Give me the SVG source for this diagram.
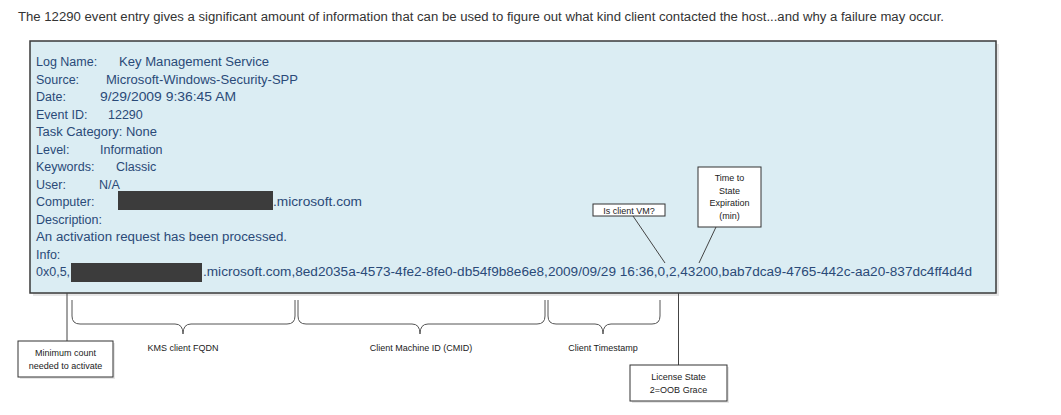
<svg xmlns="http://www.w3.org/2000/svg" width="1061" height="415" viewBox="0 0 1061 415">
<style>
.hdr{font-family:"Liberation Sans",Arial,sans-serif;font-size:12px;fill:#333}
.log{font-family:"Liberation Sans",Arial,sans-serif;font-size:12.5px;fill:#2a4a78}
.lbl{font-family:"Liberation Sans",Arial,sans-serif;font-size:9px;fill:#222}
.box{fill:#fff;stroke:#333;stroke-width:1}
.shadow{fill:#e6e6e6}
.brace{fill:none;stroke:#555;stroke-width:1}
.lead{stroke:#444;stroke-width:1;fill:none}
.red{fill:#3c3c3c}
</style>
<rect width="1061" height="415" fill="#fff"/>
<text class="hdr" x="18" y="21" textLength="926" lengthAdjust="spacingAndGlyphs">The 12290 event entry gives a significant amount of information that can be used to figure out what kind client contacted the host...and why a failure may occur.</text>

<g id="eventBox">
<rect class="shadow" x="33" y="44" width="966" height="252"/>
<rect x="30" y="41" width="966" height="252" fill="#dbedf3" stroke="#3a3a3a" stroke-width="1.5"/>
<text class="log" x="36" y="66">Log Name:</text>
<text class="log" x="119" y="66" textLength="150" lengthAdjust="spacingAndGlyphs">Key Management Service</text>
<text class="log" x="36" y="83.5">Source:</text>
<text class="log" x="106" y="83.5" textLength="192" lengthAdjust="spacingAndGlyphs">Microsoft-Windows-Security-SPP</text>
<text class="log" x="36" y="101">Date:</text>
<text class="log" x="100" y="101" textLength="136" lengthAdjust="spacingAndGlyphs">9/29/2009 9:36:45 AM</text>
<text class="log" x="36" y="118.5">Event ID:</text>
<text class="log" x="108" y="118.5">12290</text>
<text class="log" x="36" y="136" textLength="121" lengthAdjust="spacingAndGlyphs">Task Category: None</text>
<text class="log" x="36" y="153.5">Level:</text>
<text class="log" x="100" y="153.5">Information</text>
<text class="log" x="36" y="171">Keywords:</text>
<text class="log" x="116" y="171">Classic</text>
<text class="log" x="36" y="188.5">User:</text>
<text class="log" x="99" y="188.5">N/A</text>
<text class="log" x="36" y="206">Computer:</text>
<rect class="red" x="118" y="191" width="155" height="19"/>
<text class="log" x="273" y="206" textLength="89" lengthAdjust="spacingAndGlyphs">.microsoft.com</text>
<text class="log" x="36" y="223.5">Description:</text>
<text class="log" x="36" y="241" textLength="251" lengthAdjust="spacingAndGlyphs">An activation request has been processed.</text>
<text class="log" x="36" y="258.5">Info:</text>
<text class="log" x="36" y="276">0x0,5,</text>
<rect class="red" x="71" y="263" width="131" height="19"/>
<text class="log" x="203" y="276" textLength="769" lengthAdjust="spacingAndGlyphs">.microsoft.com,8ed2035a-4573-4fe2-8fe0-db54f9b8e6e8,2009/09/29 16:36,0,2,43200,bab7dca9-4765-442c-aa20-837dc4ff4d4d</text>
</g>

<g id="connectors">
<line class="lead" x1="67" y1="293" x2="67" y2="341"/>
<line class="lead" x1="678.5" y1="293" x2="678.5" y2="365"/>
<line class="lead" x1="633" y1="216" x2="665" y2="263"/>
<line class="lead" x1="716" y1="227" x2="699" y2="263"/>
<path class="brace" d="M72,300 L72,316 Q72,324 80,324 L175,324 Q183,324 183,334 Q183,324 191,324 L287,324 Q295,324 295,316 L295,300"/>
<path class="brace" d="M298,300 L298,316 Q298,324 306,324 L412,324 Q420,324 420,334 Q420,324 428,324 L537,324 Q545,324 545,316 L545,300"/>
<path class="brace" d="M548,300 L548,316 Q548,324 556,324 L595,324 Q603,324 603,334 Q603,324 611,324 L652,324 Q660,324 660,316 L660,300"/>
</g>

<g id="minCount">
<rect class="shadow" x="20" y="343" width="95" height="36"/>
<rect class="box" x="18" y="341" width="95" height="36"/>
<text class="lbl" x="65.5" y="356" text-anchor="middle">Minimum count</text>
<text class="lbl" x="65.5" y="369" text-anchor="middle">needed to activate</text>
</g>

<g id="fqdnLabel"><text class="lbl" x="183" y="351" text-anchor="middle">KMS client FQDN</text></g>
<g id="cmidLabel"><text class="lbl" x="421" y="351" text-anchor="middle">Client Machine ID (CMID)</text></g>
<g id="tsLabel"><text class="lbl" x="603" y="351" text-anchor="middle">Client Timestamp</text></g>

<g id="licenseState">
<rect class="shadow" x="632" y="367" width="97" height="36"/>
<rect class="box" x="630" y="365" width="97" height="36"/>
<text class="lbl" x="678.5" y="380" text-anchor="middle">License State</text>
<text class="lbl" x="678.5" y="393" text-anchor="middle">2=OOB Grace</text>
</g>

<g id="isVM">
<rect class="box" x="593" y="204" width="72" height="12"/>
<text class="lbl" x="629" y="213.5" text-anchor="middle">Is client VM?</text>
</g>

<g id="timeToState">
<rect class="box" x="698" y="167" width="63" height="60"/>
<text class="lbl" x="729.5" y="181" text-anchor="middle">Time to</text>
<text class="lbl" x="729.5" y="194" text-anchor="middle">State</text>
<text class="lbl" x="729.5" y="206" text-anchor="middle">Expiration</text>
<text class="lbl" x="729.5" y="219" text-anchor="middle">(min)</text>
</g>
</svg>
